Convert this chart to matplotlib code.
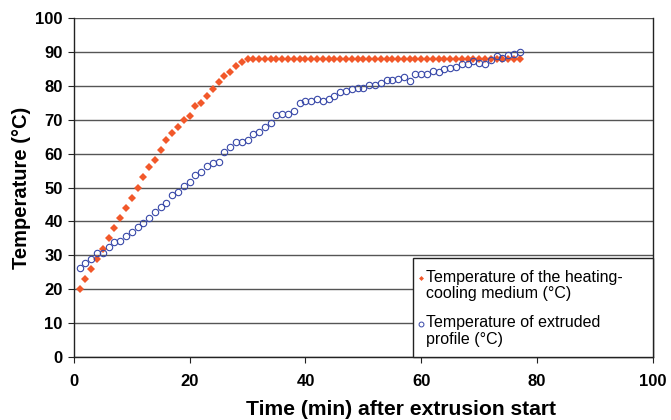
import matplotlib
matplotlib.use("Agg")
import matplotlib.pyplot as plt
from matplotlib.patches import Rectangle
from matplotlib.lines import Line2D

plt.rcParams['font.family'] = ['Liberation Sans', 'DejaVu Sans']

# time (min) after extrusion start
time_min = list(range(1, 78))

# heating-cooling medium temperature (°C)
medium_temp = [20, 23, 26, 29, 32, 35, 38, 41, 44, 47,
               50, 53, 56, 58, 61, 64, 66, 68, 70, 71,
               74, 75, 77, 79, 81, 83, 84, 86, 87] + [88] * 48

# extruded profile temperature (°C)
profile_temp = [26.3, 27.6, 29.0, 30.6, 30.6, 32.6, 33.8, 34.1, 35.7, 36.9,
                38.5, 39.5, 41.1, 42.7, 44.2, 45.5, 47.7, 48.8, 50.4, 51.6,
                53.6, 54.5, 56.4, 57.1, 57.5, 60.6, 61.9, 63.4, 63.4, 64.0,
                65.7, 66.4, 67.9, 68.9, 71.4, 71.8, 71.7, 72.7, 74.8, 75.6,
                75.6, 76.2, 75.6, 76.2, 76.9, 78.1, 78.6, 79.1, 79.4, 79.4,
                80.2, 80.3, 80.8, 81.6, 81.8, 82.0, 82.5, 81.5, 83.4, 83.4,
                83.4, 84.3, 84.0, 84.9, 85.3, 85.6, 86.3, 86.3, 87.2, 86.6,
                86.3, 87.7, 88.8, 88.3, 89.1, 89.4, 90.1]

labels = ["Temperature of the heating-\ncooling medium (°C)",
          "Temperature of extruded\nprofile (°C)"]

ORANGE = '#F2582A'
BLUE = '#3848A8'

fig = plt.figure(figsize=(6.71, 4.2), dpi=100)
ax = fig.add_axes([0.110, 0.150, 0.863, 0.807])

ax.set_xlim(0, 100)
ax.set_ylim(0, 100)
ax.set_xticks(range(0, 101, 20))
ax.set_yticks(range(0, 101, 10))
ax.grid(axis='y', color='#555555', linewidth=1.0, zorder=0)
ax.set_axisbelow(True)

ax.plot(time_min, medium_temp, linestyle='none', marker='D', markersize=4.3,
        color=ORANGE, markeredgewidth=0, zorder=3)
ax.plot(time_min, profile_temp, linestyle='none', marker='o', markersize=4.6,
        markerfacecolor='none', markeredgecolor=BLUE, markeredgewidth=0.8, zorder=3)

for s in ['left', 'bottom', 'right']:
    ax.spines[s].set_color('#222222')
    ax.spines[s].set_linewidth(1.0)
ax.spines['top'].set_visible(False)

ax.tick_params(axis='both', direction='out', length=4.5, width=0.8, color='#222222',
               labelsize=12)
ax.tick_params(axis='x', pad=8)
ax.tick_params(axis='y', pad=3.5)
for lbl in ax.get_xticklabels() + ax.get_yticklabels():
    lbl.set_fontweight('bold')

ax.set_xlabel('Time (min) after extrusion start', fontsize=15.2, fontweight='bold', labelpad=8)
ax.xaxis.label.set_x(0.565)
ax.set_ylabel('Temperature (°C)', fontsize=14.5, fontweight='bold', labelpad=3)

# legend box at lower right
ax.add_patch(Rectangle((0.5855, 0.0), 0.4145, 0.292, transform=ax.transAxes,
                       facecolor='white', edgecolor='#222222', linewidth=1.0,
                       zorder=5, clip_on=False))
ax.add_line(Line2D([0.600], [0.233], transform=ax.transAxes, marker='D',
                   markersize=2.5, color=ORANGE, markeredgewidth=0, zorder=6))
ax.add_line(Line2D([0.600], [0.097], transform=ax.transAxes, marker='o',
                   markersize=3.5, markerfacecolor='none', markeredgecolor=BLUE,
                   markeredgewidth=0.7, zorder=6))
ax.text(0.609, 0.258, labels[0], transform=ax.transAxes, fontsize=11.5,
        va='top', ha='left', linespacing=1.15, zorder=6)
ax.text(0.609, 0.124, labels[1], transform=ax.transAxes, fontsize=11.5,
        va='top', ha='left', linespacing=1.15, zorder=6)

fig.savefig('out.png', dpi=100)
